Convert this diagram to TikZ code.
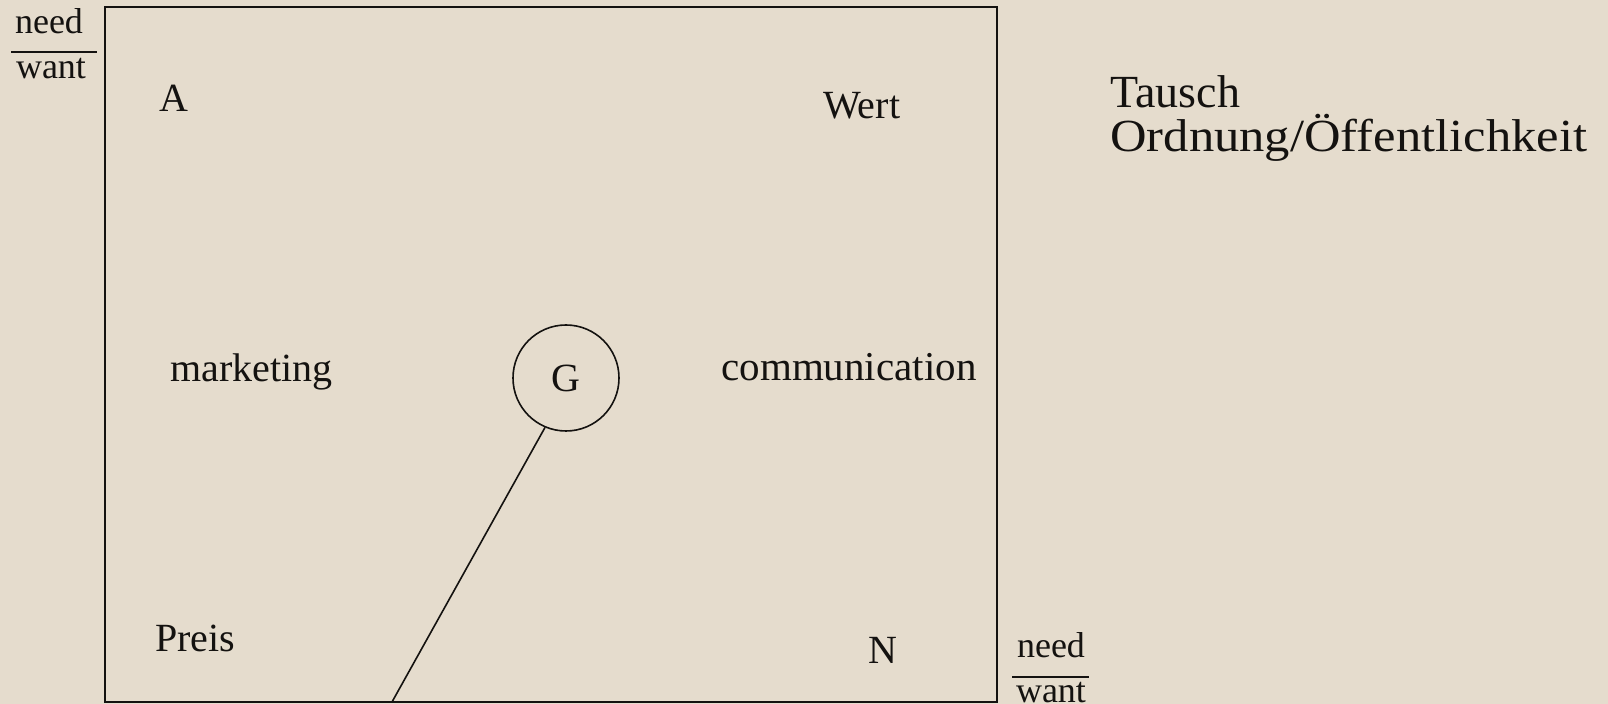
\documentclass[tikz,border=0pt]{standalone}
\usepackage{fontspec}
\setmainfont{Liberation Serif}
\definecolor{paper}{RGB}{229,220,205}
\definecolor{ink}{RGB}{20,18,16}
\begin{document}
\begin{tikzpicture}[x=0.5pt,y=-0.5pt,
  lbl/.style={inner sep=0pt, anchor=base west, text=ink, font=\fontsize{20}{24}\selectfont},
  big/.style={inner sep=0pt, anchor=base west, text=ink, font=\fontsize{23}{28}\selectfont},
  fracword/.style={inner sep=0pt, anchor=base, text=ink, font=\fontsize{18}{22}\selectfont},
  ln/.style={draw=ink, line width=0.8pt}]
\fill[paper] (0,0) rectangle (1608,704);
\useasboundingbox (0,0) rectangle (1608,704);
% frame
\coordinate (bnw) at (105,7);
\coordinate (bse) at (997,702);
\draw[ln] (bnw) rectangle (bse);
% labels inside the frame
\node[lbl] (A) at (159,112) {A};
\node[lbl] (wert) at (823,119) {Wert};
\node[lbl] (mkt) at (170,382) {marketing};
\node[lbl, font=\fontsize{20.5}{24}\selectfont] (comm) at (721,381) {communication};
\node[lbl] (preis) at (155,652) {Preis};
\node[lbl] (N) at (868,664) {N};
% circle G and its line
\node[ln, circle, minimum size=53pt, inner sep=0pt, text=ink, font=\fontsize{20}{24}\selectfont] (G) at (566,378) {\raisebox{-2.5pt}{G}};
\coordinate (lb) at (392,702);
\draw[ln] (G.247) -- (lb);
% right texts
\node[big] (tausch) at (1110,108) {Tausch};
\node[big] (ord) at (1110,152) {\scalebox{1.1}[1]{Ordnung/Öffentlichkeit}};
% need/want top left
\node[fracword] (need1) at (49,34) {need};
\node[fracword] (want1) at (51,79) {want};
\coordinate (r1a) at (11,52);
\coordinate (r1b) at (97,52);
\draw[ln] (r1a) -- (r1b);
% need/want bottom right
\node[fracword] (need2) at (1051,658) {need};
\node[fracword] (want2) at (1051,703) {want};
\coordinate (r2a) at (1012,677);
\coordinate (r2b) at (1089,677);
\draw[ln] (r2a) -- (r2b);
\end{tikzpicture}
\end{document}
